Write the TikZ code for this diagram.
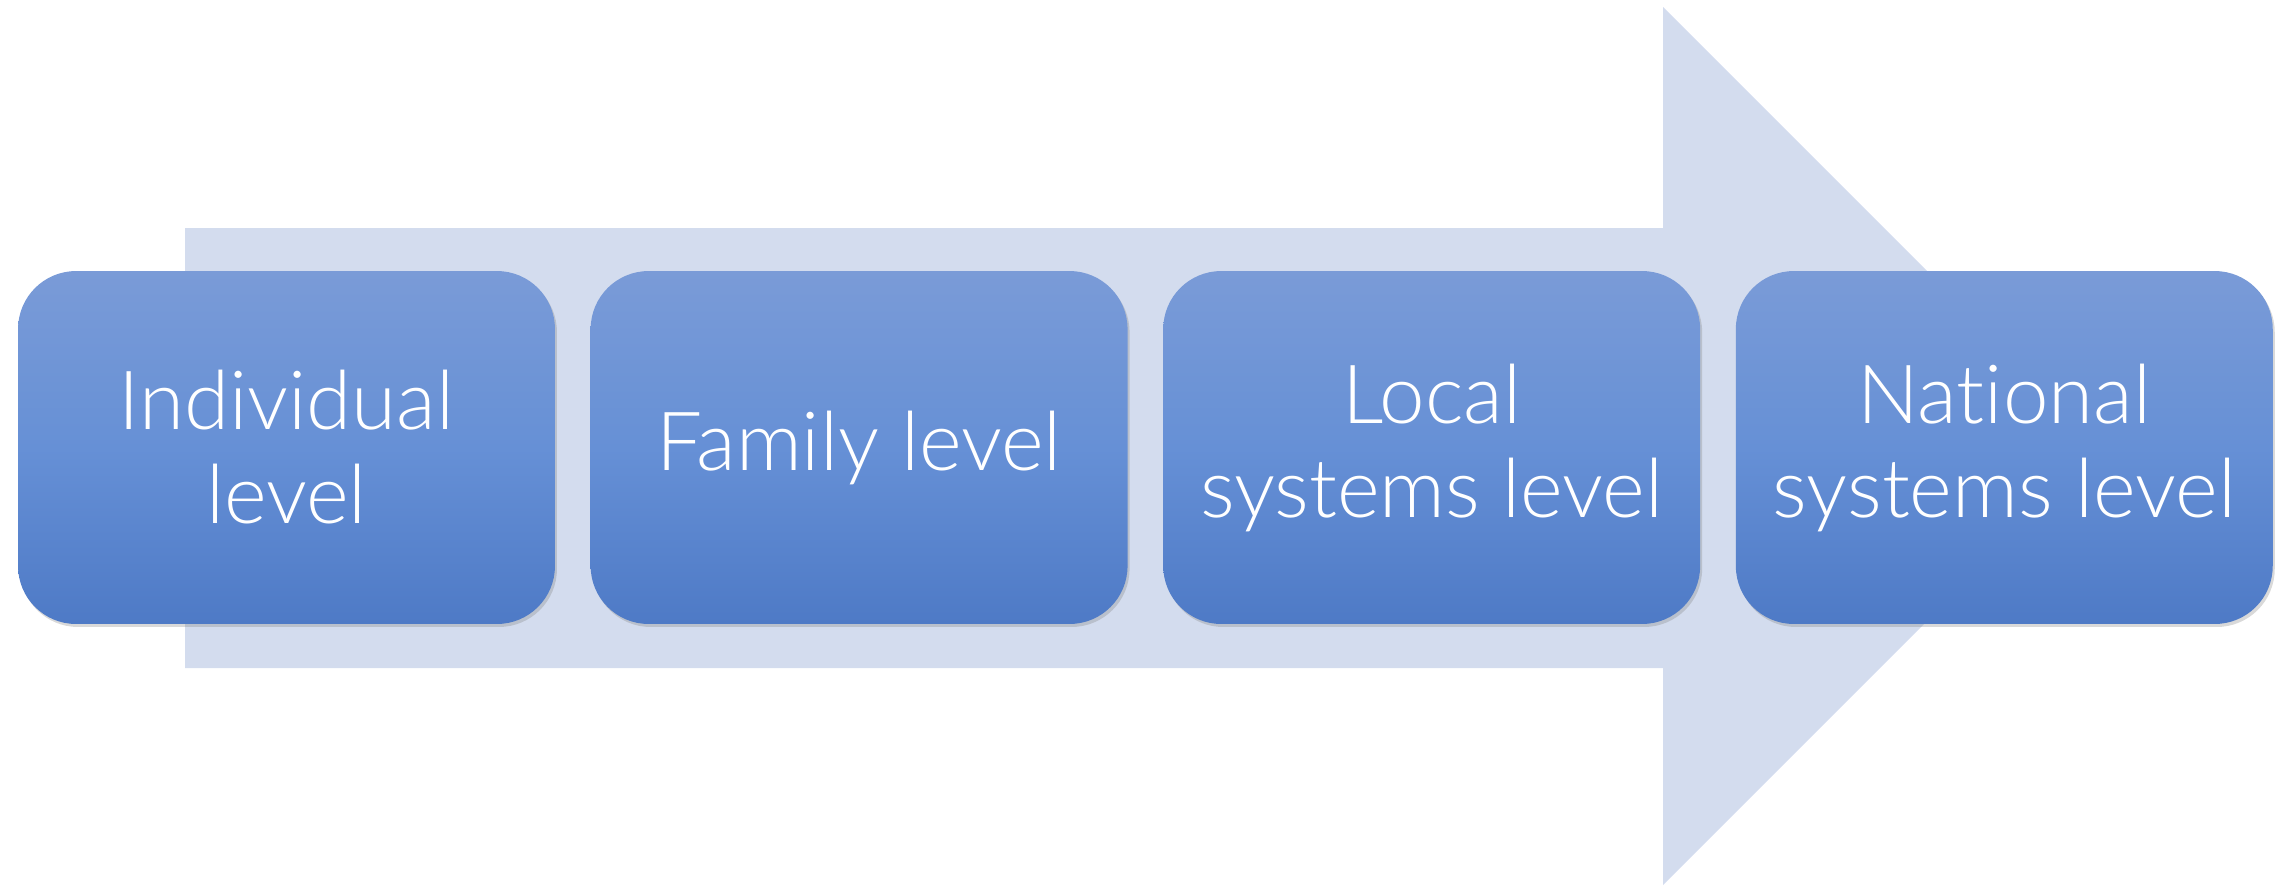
\documentclass[tikz,border=0pt]{standalone}
\usepackage{fontspec}
\setmainfont{Lato Light}[Ligatures=NoCommon]
\usetikzlibrary{positioning,shadows}

\definecolor{shaftblue}{HTML}{D3DCEE}
\definecolor{boxtop}{HTML}{7A9BD7}
\definecolor{boxmid}{HTML}{6690D6}
\definecolor{boxbot}{HTML}{4E7AC6}

\tikzset{
	level/.style={rounded corners=1.16cm, minimum width=10.74cm, minimum height=7.06cm,
		top color=boxtop, bottom color=boxbot, middle color=boxmid,
		drop shadow={opacity=0.3, shadow xshift=0.04cm, shadow yshift=-0.06cm},
		text=white, align=center, inner sep=0pt,
		font=\fontsize{46.5}{53.5}\selectfont},
}

\begin{document}
\begin{tikzpicture}[x=0.02cm, y=-0.02cm]
		%%%%% START %%%%%
		
		\useasboundingbox (0, 0) rectangle (2287, 887);
		
		% big arrow behind
		\fill[shaftblue] (185, 228) -- (1663, 228) -- (1663, 7) -- (2102, 446)
			-- (1663, 885) -- (1663, 668) -- (185, 668) -- cycle;
		
		% levels
		\node[level] (indiv) at (286.5, 447.5) {Individual\\level};
		\node[level, right=0.7cm of indiv] (family) {Family level};
		\node[level, right=0.7cm of family] (local) {Local\\systems level};
		\node[level, right=0.7cm of local] (national) {National\\systems level};
		
		%%%%% END %%%%%
	\end{tikzpicture}
\end{document}
